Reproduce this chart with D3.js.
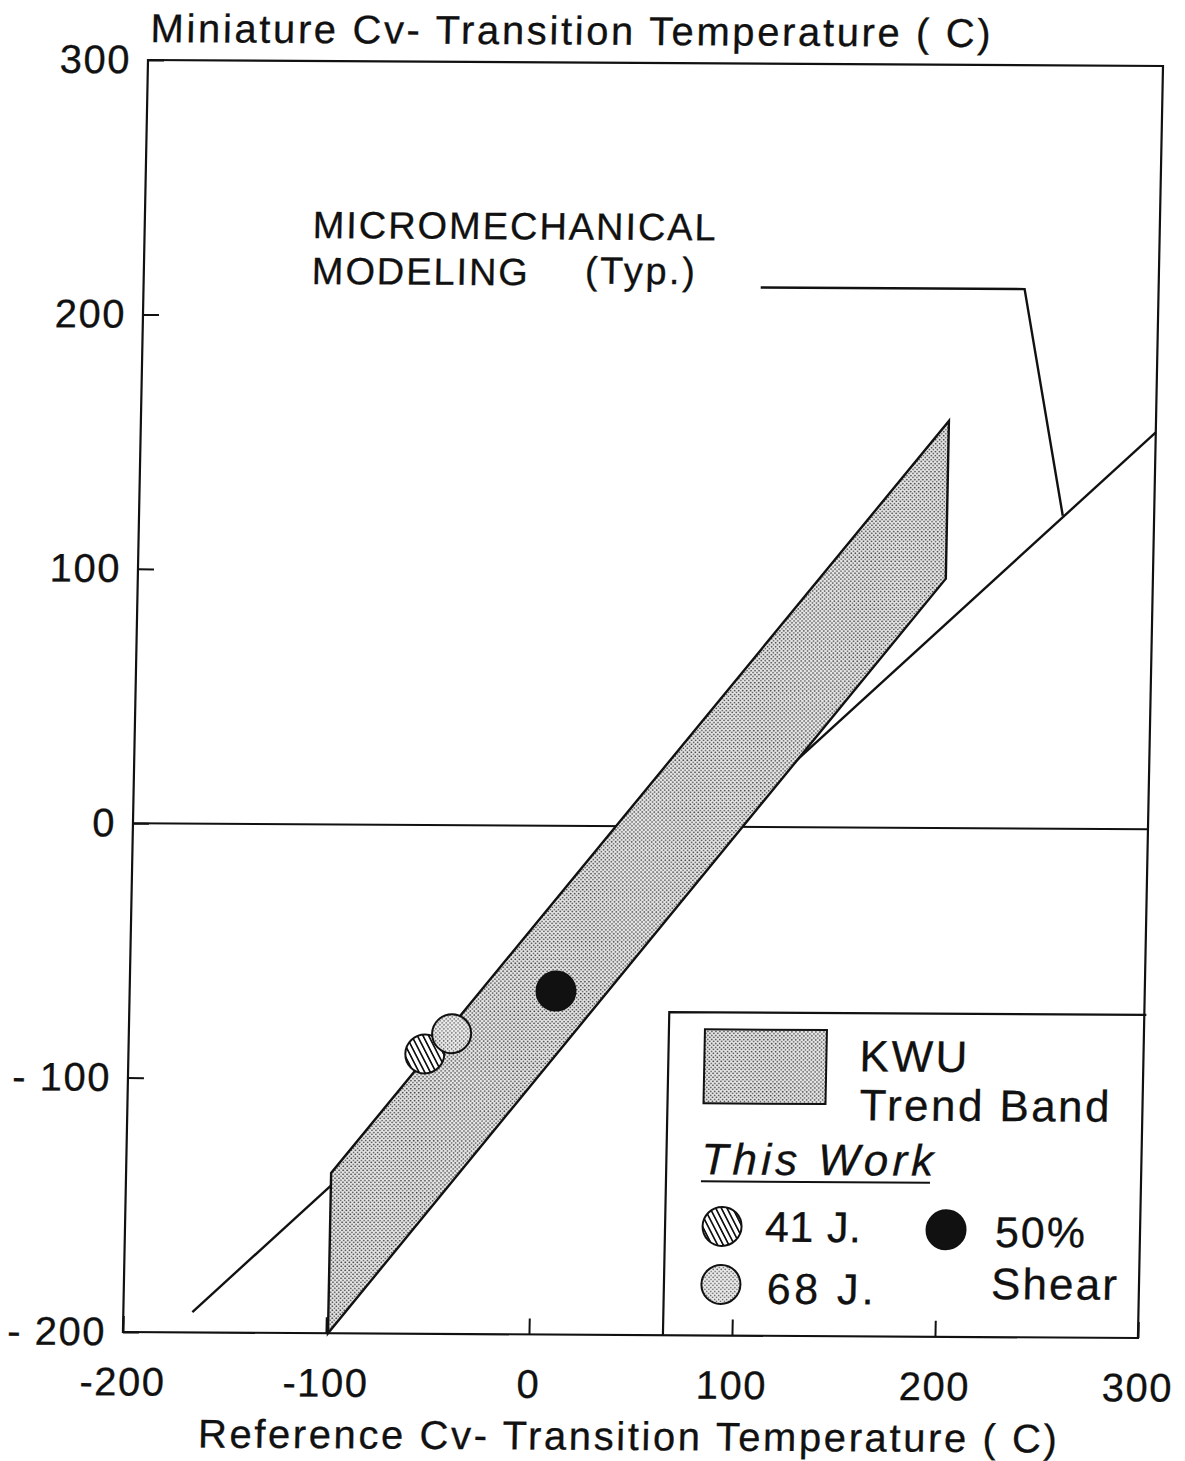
<!DOCTYPE html>
<html>
<head>
<meta charset="utf-8">
<script src="https://cdn.jsdelivr.net/npm/d3@7"></script>
<style>
  html, body { margin: 0; padding: 0; background: #fff; }
  text { font-family: "Liberation Sans", Arial, Helvetica, sans-serif; fill: #111; stroke: #111; stroke-width: 0.3px; }
</style>
</head>
<body>
<script>
// Axis ticks and their printed labels
const xTickValues = [-200, -100, 0, 100, 200, 300];
const xTickLabels = ["-200", "-100", "0", "100", "200", "300"];
const yTickValues = [300, 200, 100, 0, -100, -200];
const yTickLabels = ["300", "200", "100", "0", "- 100", "- 200"];

// KWU trend band outline (reference T, miniature T) in deg C
const bandX = [-99, -99, 198, 198];
const bandY = [-200, -137, 160, 98];

// Micromechanical modeling curve and its callout leader
const modelX = [-166, 300];
const modelY = [-192, 156];
const leaderX = [104, 234, 255];
const leaderY = [212, 212, 123];

// Results from this work
const pointNames = ["41 J.", "68 J.", "50% Shear"];
const pointX = [-54, -41, 10];
const pointY = [-90, -82, -65];

const W = 1185, H = 1461;
const plotW = 1015, plotH = 1272;

const svg = d3.select("body").append("svg")
  .attr("width", W).attr("height", H);

svg.append("rect").attr("width", W).attr("height", H).attr("fill", "#fff");

// fill patterns: dotted screen for the band, diagonal hatch for the 41 J marker
const defs = svg.append("defs");
const stip = defs.append("pattern").attr("id", "stipple")
  .attr("patternUnits", "userSpaceOnUse").attr("width", 4).attr("height", 4);
stip.append("rect").attr("width", 4).attr("height", 4).attr("fill", "#e8e8e8");
stip.append("circle").attr("cx", 1).attr("cy", 1).attr("r", 0.85).attr("fill", "#444");
stip.append("circle").attr("cx", 3).attr("cy", 3).attr("r", 0.85).attr("fill", "#444");

const stipLight = defs.append("pattern").attr("id", "stippleLight")
  .attr("patternUnits", "userSpaceOnUse").attr("width", 4).attr("height", 4);
stipLight.append("rect").attr("width", 4).attr("height", 4).attr("fill", "#ececec");
stipLight.append("circle").attr("cx", 1).attr("cy", 1).attr("r", 0.75).attr("fill", "#555");
stipLight.append("circle").attr("cx", 3).attr("cy", 3).attr("r", 0.75).attr("fill", "#555");

const hatch = defs.append("pattern").attr("id", "hatch")
  .attr("patternUnits", "userSpaceOnUse").attr("width", 5).attr("height", 5)
  .attr("patternTransform", "rotate(-28)");
hatch.append("rect").attr("width", 5).attr("height", 5).attr("fill", "#fff");
hatch.append("line").attr("x1", 2.5).attr("y1", 0).attr("x2", 2.5).attr("y2", 5)
  .attr("stroke", "#111").attr("stroke-width", 1.7);

// whole figure sits in a slightly slanted frame
const g = svg.append("g")
  .attr("transform", "matrix(1,0.0059,-0.0197,1,148,60)");

const x = d3.scaleLinear().domain([-200, 300]).range([0, plotW]);
const y = d3.scaleLinear().domain([-200, 300]).range([plotH, 0]);

const ink = "#111";

// axes
const gx = g.append("g").attr("transform", `translate(0,${plotH})`)
  .call(d3.axisBottom(x).tickValues(xTickValues)
    .tickFormat((d, i) => xTickLabels[i])
    .tickSizeInner(-16).tickSizeOuter(0).tickPadding(35));
const gy = g.append("g")
  .call(d3.axisLeft(y).tickValues(yTickValues)
    .tickFormat((d, i) => yTickLabels[i])
    .tickSizeInner(-16).tickSizeOuter(0).tickPadding(17));
[gx, gy].forEach(a => {
  a.select(".domain").remove();
  a.selectAll(".tick line").attr("stroke", ink).attr("stroke-width", 2);
  a.selectAll(".tick text").attr("fill", ink)
    .style("font-size", "40px").style("letter-spacing", "1.5px")
    .style("font-family", "'Liberation Sans', Arial, sans-serif");
});

// frame
g.append("rect").attr("x", 0).attr("y", 0).attr("width", plotW).attr("height", plotH)
  .attr("fill", "none").attr("stroke", ink).attr("stroke-width", 2.2);

// zero line
g.append("line").attr("x1", x(-200)).attr("x2", x(300))
  .attr("y1", y(0)).attr("y2", y(0))
  .attr("stroke", ink).attr("stroke-width", 2);

const line = d3.line().x(d => x(d[0])).y(d => y(d[1]));

// micromechanical modeling line
g.append("path").attr("d", line(d3.zip(modelX, modelY)))
  .attr("fill", "none").attr("stroke", ink).attr("stroke-width", 2.4);

// KWU trend band
g.append("path").attr("d", line(d3.zip(bandX, bandY)) + "Z")
  .attr("fill", "url(#stipple)").attr("stroke", ink).attr("stroke-width", 2.4)
  .attr("stroke-linejoin", "miter");

// callout leader
g.append("path").attr("d", line(d3.zip(leaderX, leaderY)))
  .attr("fill", "none").attr("stroke", ink).attr("stroke-width", 2.4);

// data points
const pointFill = ["url(#hatch)", "url(#stippleLight)", ink];
g.selectAll("circle.pt").data(d3.range(pointX.length)).join("circle")
  .attr("class", "pt")
  .attr("cx", i => x(pointX[i])).attr("cy", i => y(pointY[i]))
  .attr("r", 19.5)
  .attr("fill", i => pointFill[i])
  .attr("stroke", ink).attr("stroke-width", 2);

// texts
function txt(parent, tx, ty, s, size, len, extra) {
  const t = parent.append("text").attr("x", tx).attr("y", ty).text(s)
    .style("font-size", size + "px");
  if (len) t.attr("textLength", len).attr("lengthAdjust", "spacing");
  if (extra) extra(t);
  return t;
}
txt(g, 2, -18, "Miniature Cv- Transition Temperature ( C)", 40, 840);
txt(g, 77, plotH + 115, "Reference Cv- Transition Temperature ( C)", 40, 859);
txt(g, 168, 177, "MICROMECHANICAL", 38, 403);
txt(g, 168, 223, "MODELING", 38, 216);
txt(g, 441, 221, "(Typ.)", 38, 110);

// legend
const lg = g.append("g").attr("transform", `translate(${x(66)},${y(-73)})`);
lg.append("path")
  .attr("d", `M0,${y(-200) - y(-73)} L0,0 L${x(301) - x(66)},0`)
  .attr("fill", "none").attr("stroke", ink).attr("stroke-width", 2.2);
lg.append("rect").attr("x", 36).attr("y", 17).attr("width", 122).attr("height", 74)
  .attr("fill", "url(#stipple)").attr("stroke", ink).attr("stroke-width", 2);
txt(lg, 191, 58, "KWU", 44, 108);
txt(lg, 192, 107, "Trend Band", 44, 250);
txt(lg, 35, 162, "This Work", 44, 232, t => t.style("font-style", "italic"));
lg.append("line").attr("x1", 35).attr("x2", 264).attr("y1", 169).attr("y2", 169)
  .attr("stroke", ink).attr("stroke-width", 2);
const legPts = [[57, 214], [57, 272], [281, 216]];
legPts.forEach((p, i) => {
  lg.append("circle").attr("cx", p[0]).attr("cy", p[1]).attr("r", 19.5)
    .attr("fill", pointFill[i]).attr("stroke", ink).attr("stroke-width", 2);
});
txt(lg, 100, 229, pointNames[0], 43, 96);
txt(lg, 103, 291, pointNames[1], 43, 107);
const shearWords = pointNames[2].split(" ");
txt(lg, 330, 233, shearWords[0], 43, 90);
txt(lg, 327, 285, shearWords[1], 44, 126);
</script>
</body>
</html>
